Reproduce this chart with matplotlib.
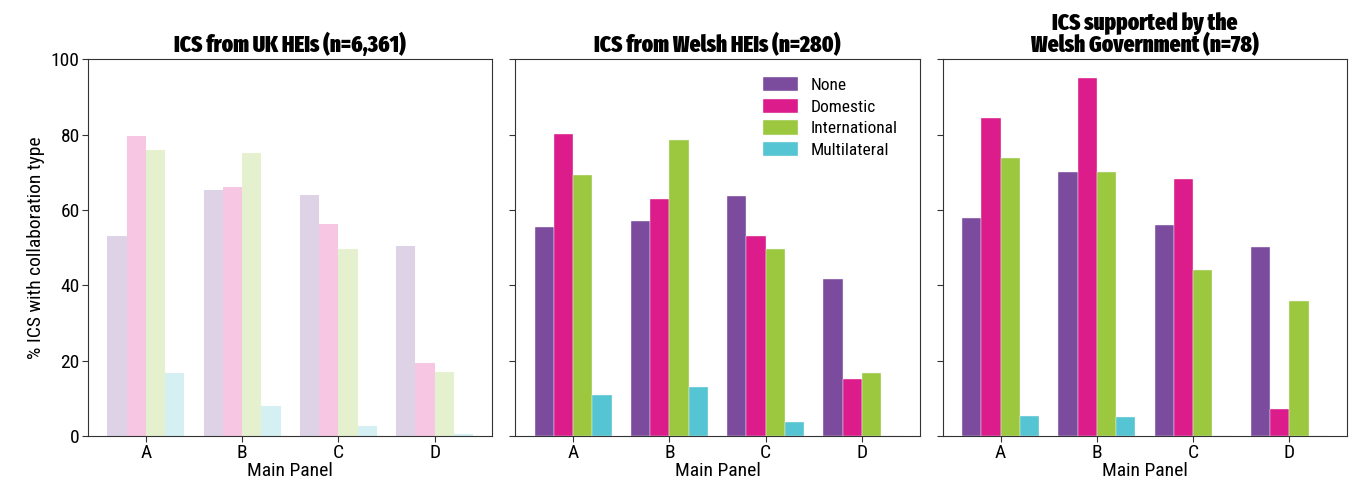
import numpy as np
import matplotlib
matplotlib.use("Agg")
import matplotlib.pyplot as plt

# Share of impact case studies (%) by collaboration type and main panel
panels = ["A", "B", "C", "D"]
collab_types = ["None", "Domestic", "International", "Multilateral"]

uk_none = [53.2, 65.4, 64.0, 50.5]
uk_domestic = [79.6, 66.1, 56.4, 19.5]
uk_international = [75.8, 75.0, 49.6, 16.9]
uk_multilateral = [16.8, 7.9, 2.6, 0.6]

wales_none = [55.5, 57.2, 63.6, 41.8]
wales_domestic = [80.1, 63.0, 53.1, 15.2]
wales_international = [69.3, 78.7, 49.6, 16.8]
wales_multilateral = [10.8, 13.0, 3.6, 0.0]

wg_none = [58.0, 70.1, 56.1, 50.2]
wg_domestic = [84.4, 95.1, 68.2, 7.2]
wg_international = [73.9, 70.1, 44.2, 35.9]
wg_multilateral = [5.4, 5.1, 0.0, 0.0]

titles = [
    "ICS from UK HEIs (n=6,361)",
    "ICS from Welsh HEIs (n=280)",
    "ICS supported by the\nWelsh Government (n=78)",
]

colours = ["#7b4c9e", "#dd1c8c", "#9bc83f", "#55c5d3"]

plt.rcParams["font.family"] = ["Roboto Condensed", "DejaVu Sans"]
title_font = dict(family=["Fira Sans Extra Condensed", "DejaVu Sans"], weight=900)

datasets = [
    [uk_none, uk_domestic, uk_international, uk_multilateral],
    [wales_none, wales_domestic, wales_international, wales_multilateral],
    [wg_none, wg_domestic, wg_international, wg_multilateral],
]
alphas = [0.25, 1.0, 1.0]

fig, axes = plt.subplots(1, 3, figsize=(13.63, 4.82), dpi=100, sharey=True)
fig.subplots_adjust(left=0.0646, right=0.9883, bottom=0.0954, top=0.877, wspace=0.057)

x = np.arange(len(panels))
width = 0.2
for ax, series, title, alpha in zip(axes, datasets, titles, alphas):
    for i, (vals, col, name) in enumerate(zip(series, colours, collab_types)):
        ax.bar(x + (i - 1.5) * width, vals, width, color=col, alpha=alpha,
               edgecolor="#f4f4f4", linewidth=0.3, label=name)
    ax.set_xticks(x)
    ax.set_xticklabels(panels)
    ax.set_xlim(-0.6, 3.6)
    ax.set_ylim(0, 100)
    ax.set_xlabel("Main Panel", fontsize=14, labelpad=0)
    ax.set_title(title, fontsize=16.5, linespacing=0.88, pad=5, **title_font)
    ax.tick_params(axis="both", labelsize=14, length=4, color="#333333", pad=2)
    for sp in ax.spines.values():
        sp.set_color("#333333")

axes[0].set_ylabel("% ICS with collaboration type", fontsize=14, labelpad=4)
axes[0].set_yticks([0, 20, 40, 60, 80, 100])

axes[1].legend(loc="upper right", frameon=False, fontsize=12.5,
               handlelength=2.0, handleheight=0.9, labelspacing=0.32,
               handletextpad=0.75, bbox_to_anchor=(0.985, 0.995))

fig.savefig("out.png", dpi=100)
